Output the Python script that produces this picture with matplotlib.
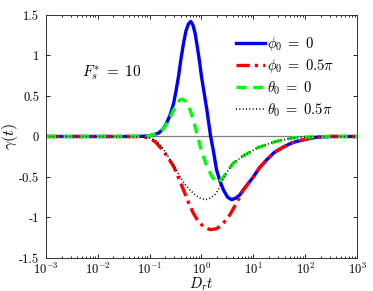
import matplotlib
matplotlib.use("Agg")
import matplotlib.pyplot as plt

plt.rcParams["mathtext.fontset"] = "cm"
plt.rcParams["font.family"] = "serif"
plt.rcParams["font.serif"] = ["cmr10", "DejaVu Serif"]
plt.rcParams["axes.formatter.use_mathtext"] = True

# curves (D_r t, gamma)
phi0_x = [1e-3, 0.03, 0.07, 0.1, 0.147, 0.18, 0.21, 0.25, 0.29, 0.32, 0.36, 0.4,
          0.45, 0.5, 0.56, 0.62, 0.68, 0.75, 0.81, 0.9, 1.0, 1.27, 1.5, 1.7, 1.95,
          2.3, 2.65, 3.2, 3.8, 4.6, 5.5, 6.4, 8, 10, 13, 18, 25, 38, 55, 80, 120,
          165, 300, 1000]
phi0_y = [0, 0, 0.002, 0.01, 0.04, 0.09, 0.16, 0.27, 0.41, 0.55, 0.74, 0.95,
          1.15, 1.3, 1.39, 1.42, 1.38, 1.28, 1.15, 0.96, 0.74, 0.33, 0.0, -0.18,
          -0.41, -0.56, -0.66, -0.75, -0.78, -0.76, -0.72, -0.66, -0.58, -0.50,
          -0.39, -0.29, -0.20, -0.13, -0.08, -0.05, -0.025, -0.01, 0, 0]

phi05_x = [1e-3, 0.03, 0.07, 0.1, 0.13, 0.18, 0.23, 0.29, 0.36, 0.45, 0.55, 0.7,
           0.85, 1.08, 1.47, 1.9, 2.3, 2.8, 3.5, 4.2, 5.1, 6.4, 8, 10, 13, 18, 25,
           38, 55, 80, 120, 165, 300, 1000]
phi05_y = [0, 0, -0.002, -0.02, -0.07, -0.17, -0.27, -0.37, -0.51, -0.66, -0.80,
           -0.95, -1.04, -1.11, -1.15, -1.14, -1.11, -1.05, -0.97, -0.88, -0.78,
           -0.66, -0.58, -0.50, -0.39, -0.29, -0.20, -0.13, -0.08, -0.05, -0.025,
           -0.01, 0, 0]

theta0_x = [1e-3, 0.03, 0.07, 0.1, 0.147, 0.18, 0.21, 0.25, 0.29, 0.33, 0.38,
            0.43, 0.5, 0.6, 0.7, 0.81, 0.9, 1.0, 1.27, 1.6, 1.95, 2.15, 2.5, 3.0,
            4.1, 6, 8.7, 12, 18, 26, 38, 55, 80, 200, 1000]
theta0_y = [0, 0, 0.002, 0.01, 0.04, 0.09, 0.15, 0.24, 0.33, 0.40, 0.45, 0.46,
            0.43, 0.33, 0.20, 0.04, -0.07, -0.18, -0.37, -0.50, -0.56, -0.57,
            -0.52, -0.45, -0.33, -0.25, -0.19, -0.14, -0.10, -0.065, -0.04, -0.02,
            -0.01, 0, 0]

theta05_x = [1e-3, 0.03, 0.07, 0.1, 0.13, 0.16, 0.2, 0.25, 0.31, 0.39, 0.48, 0.6,
             0.75, 0.94, 1.2, 1.47, 1.8, 2.1, 2.3, 2.5, 3.0, 4.1, 6, 8.7, 12, 18,
             26, 38, 55, 80, 200, 1000]
theta05_y = [0, 0, -0.002, -0.02, -0.05, -0.10, -0.19, -0.29, -0.39, -0.50, -0.59,
             -0.66, -0.72, -0.76, -0.78, -0.76, -0.72, -0.66, -0.61, -0.55, -0.45,
             -0.33, -0.25, -0.19, -0.14, -0.10, -0.065, -0.04, -0.02, -0.01, 0, 0]

x_ticks = [1e-3, 1e-2, 1e-1, 1e0, 1e1, 1e2, 1e3]
x_tick_labels = [r"$10^{-3}$", r"$10^{-2}$", r"$10^{-1}$", r"$10^{0}$",
                 r"$10^{1}$", r"$10^{2}$", r"$10^{3}$"]
y_ticks = [-1.5, -1, -0.5, 0, 0.5, 1, 1.5]
y_tick_labels = ["-1.5", "-1", "-0.5", "0", "0.5", "1", "1.5"]

fig = plt.figure(figsize=(3.73, 2.91), dpi=100)
ax = fig.add_axes([0.1233, 0.1134, 0.8338, 0.8351])

ax.axhline(0, color="#808080", linewidth=0.9, zorder=1)
ax.semilogx(phi0_x, phi0_y, color="#0000ff", linewidth=2.4,
            label=r"$\phi_0\;=\;0$")
ax.semilogx(phi05_x, phi05_y, color="#ff0000", linewidth=2.4,
            dashes=(4, 1.5, 1, 1.5), label=r"$\phi_0\;=\;0.5\pi$")
ax.semilogx(theta0_x, theta0_y, color="#00ff00", linewidth=2.4,
            dashes=(3, 2), label=r"$\theta_0\;=\;0$")
ax.semilogx(theta05_x, theta05_y, color="black", linewidth=1.2,
            dashes=(0.6, 1.4), label=r"$\theta_0\;=\;0.5\pi$")

ax.set_xlim(1e-3, 1e3)
ax.set_ylim(-1.5, 1.5)
ax.set_xticks(x_ticks, x_tick_labels)
ax.set_yticks(y_ticks, y_tick_labels)
ax.tick_params(which="both", direction="in", top=True, right=True, labelsize=9,
               width=0.6)
ax.tick_params(axis="x", pad=2.5)
ax.tick_params(axis="y", pad=5)
ax.tick_params(which="major", length=3)
ax.tick_params(which="minor", length=1.5)
for s in ax.spines.values():
    s.set_linewidth(0.7)
    s.set_color("#333333")

ax.set_xlabel(r"$D_r t$", fontsize=10.5)
ax.xaxis.set_label_coords(0.5, -0.071)
ax.set_ylabel(r"$\gamma(t)$", fontsize=11.5)
ax.yaxis.set_label_coords(-0.085, 0.5)

ax.text(0.115, 0.765, r"$F_s^{*}\;=\;10$", transform=ax.transAxes, fontsize=11,
        ha="left", va="center")

ax.legend(loc="upper right", bbox_to_anchor=(0.955, 0.955), frameon=False,
          fontsize=10.5, handlelength=2.0, handletextpad=0.15, labelspacing=0.3,
          borderaxespad=0.2)

fig.savefig("out.png", dpi=100)
